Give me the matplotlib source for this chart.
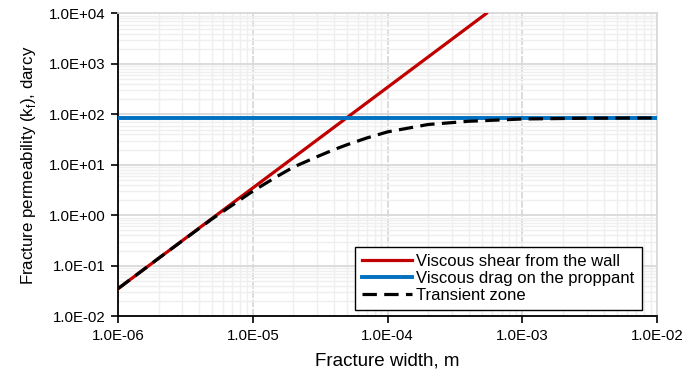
import matplotlib
matplotlib.use("Agg")
import matplotlib.pyplot as plt
from matplotlib.ticker import LogLocator, FuncFormatter, NullFormatter

plt.rcParams['font.family'] = ['Liberation Sans', 'DejaVu Sans']

# viscous shear from the wall (straight line on log-log, read at its ends)
wall_w = [1e-6, 5.4e-4]
wall_k = [0.035, 1.0e4]

# viscous drag on the proppant
drag_w = [1e-6, 1e-2]
drag_k = [85, 85]

# transient zone
trans_w = [1e-6, 2e-6, 5e-6, 1e-5, 1.5e-5, 2e-5, 3e-5, 4e-5, 5e-5, 7e-5,
           1e-4, 2e-4, 4e-4, 1e-3, 3e-3, 1e-2]
trans_k = [0.035, 0.14, 0.85, 3.0, 5.8, 9.0, 14.5, 20, 25, 34,
           45, 63, 73, 81, 84, 85]

fig = plt.figure(figsize=(6.86, 3.75), dpi=100)
ax = fig.add_axes([0.172, 0.157, 0.786, 0.807])

ax.plot(wall_w, wall_k, color="#c00000", linewidth=2.3,
        label="Viscous shear from the wall", zorder=3)
ax.plot(drag_w, drag_k, color="#0070c0", linewidth=2.8,
        label="Viscous drag on the proppant", zorder=3)
ax.plot(trans_w, trans_k, color="black", linewidth=2.3, dashes=(4.5, 2.3),
        label="Transient zone", zorder=4)

ax.set_xscale("log")
ax.set_yscale("log")
ax.set_xlim(1e-6, 1e-2)
ax.set_ylim(1e-2, 1e4)

def fmt(v, p):
    m, e = "{:.1E}".format(v).split("E")
    return "{}E{}{:02d}".format(m, "+" if int(e) >= 0 else "-", abs(int(e)))
ax.xaxis.set_major_formatter(FuncFormatter(fmt))
ax.yaxis.set_major_formatter(FuncFormatter(fmt))
ax.xaxis.set_major_locator(LogLocator(base=10, numticks=10))
ax.yaxis.set_major_locator(LogLocator(base=10, numticks=10))
ax.xaxis.set_minor_locator(LogLocator(base=10, subs=range(2, 10), numticks=20))
ax.yaxis.set_minor_locator(LogLocator(base=10, subs=range(2, 10), numticks=20))
ax.xaxis.set_minor_formatter(NullFormatter())
ax.yaxis.set_minor_formatter(NullFormatter())

ax.tick_params(which="major", direction="out", length=5, width=1.2, labelsize=10.8,
               colors="black", pad=4)
ax.tick_params(which="minor", length=0)

ax.grid(which="minor", color="#efefef", linewidth=1.0)
ax.grid(which="major", axis="y", color="#d9d9d9", linewidth=1.3)
ax.grid(which="major", axis="x", color="#d9d9d9", linewidth=1.3, linestyle=(0, (4, 1)))
ax.set_axisbelow(True)

for s in ["left", "bottom"]:
    ax.spines[s].set_color("black")
    ax.spines[s].set_linewidth(1.3)
for s in ["top", "right"]:
    ax.spines[s].set_color("#d9d9d9")
    ax.spines[s].set_linewidth(1.3)

ax.set_xlabel("Fracture width, m", fontsize=13.5, labelpad=7)
ax.set_ylabel(r"Fracture permeability (k$_\mathregular{f}$), darcy", fontsize=12.2, labelpad=8)

leg = ax.legend(loc="lower right", fontsize=12, frameon=True, fancybox=False,
                edgecolor="black", framealpha=1, borderpad=0.45, labelspacing=0.1,
                handlelength=3.0, handletextpad=0.25, borderaxespad=0,
                bbox_to_anchor=(0.972, 0.02))
leg.get_frame().set_linewidth(1.0)

fig.savefig("out.png", dpi=100)
